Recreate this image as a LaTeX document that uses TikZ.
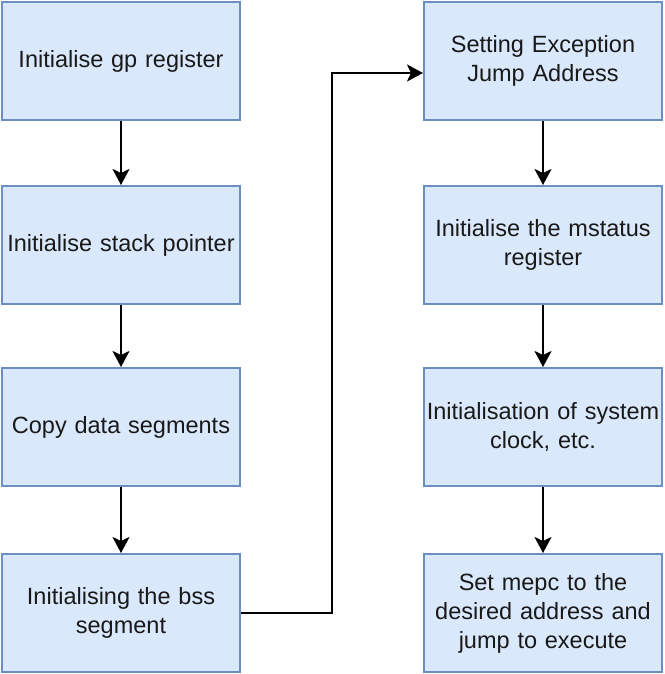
\documentclass[tikz,border=0pt]{standalone}
\usepackage{fontspec}
\setmainfont{Liberation Sans}
\usetikzlibrary{arrows.meta}
\begin{document}
\begin{tikzpicture}[x=1pt,y=-1pt,
  box/.style={draw=boxline,fill=boxfill,line width=2pt,minimum width=238pt,minimum height=118pt,
    align=center,text width=236pt,inner sep=0pt,font=\fontsize{23.5}{29}\selectfont,text=black!90},
  conn/.style={line width=2.3pt,-{Stealth[length=16pt,width=17pt,inset=4pt]}}]
\definecolor{boxfill}{HTML}{DAE8FC}
\definecolor{boxline}{HTML}{6C8EBF}
\useasboundingbox (0,0) rectangle (664,674);
\node[box] (a) at (121,61) {Initialise gp register};
\node[box] (b) at (121,245) {Initialise stack pointer};
\node[box] (c) at (121,427) {Copy data segments};
\node[box] (d) at (121,613) {Initialising the bss\\segment};
\node[box] (e) at (543,61) {Setting Exception\\Jump Address};
\node[box] (f) at (543,245) {Initialise the mstatus\\register};
\node[box] (g) at (543,427) {Initialisation of system\\clock, etc.};
\node[box] (h) at (543,613) {Set mepc to the\\desired address and\\jump to execute};
\draw[conn] (a) -- (b);
\draw[conn] (b) -- (c);
\draw[conn] (c) -- (d);
\draw[conn] (e) -- (f);
\draw[conn] (f) -- (g);
\draw[conn] (g) -- (h);
\coordinate (m1) at (332,613);
\coordinate (m2) at (332,73);
\coordinate (t) at (423,73);
\draw[conn] (d.east) -- (m1) -- (m2) -- (t);
\end{tikzpicture}
\end{document}
